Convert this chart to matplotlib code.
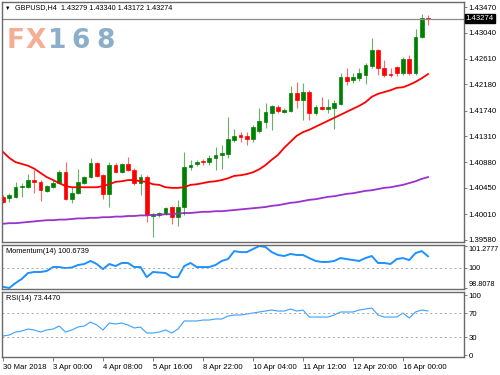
import matplotlib
matplotlib.use("Agg")
import matplotlib.pyplot as plt
from matplotlib.transforms import blended_transform_factory

plt.rcParams['font.family'] = ['Liberation Sans', 'DejaVu Sans']

# GBPUSD H4 candles
open_ = [1.4030, 1.4028, 1.4030, 1.4046, 1.4046, 1.4058, 1.4055, 1.4040, 1.4046, 1.4053,
         1.4071, 1.4026, 1.4036, 1.4053, 1.4063, 1.4087, 1.4066, 1.4035, 1.4083, 1.4071,
         1.4085, 1.4075, 1.4053, 1.4063, 1.3998, 1.4000, 1.4001, 1.4013, 1.3996, 1.4013,
         1.4080, 1.4085, 1.4090, 1.4088, 1.4095, 1.4100, 1.4102, 1.4125, 1.4133, 1.4132,
         1.4127, 1.4140, 1.4155, 1.4170, 1.4180, 1.4172, 1.4173, 1.4203, 1.4192, 1.4205,
         1.4170, 1.4180, 1.4177, 1.4178, 1.4185, 1.4230, 1.4225, 1.4228, 1.4233, 1.4249,
         1.4275, 1.4245, 1.4235, 1.4247, 1.4237, 1.4260, 1.4237, 1.4297, 1.43279]
high = [1.4033, 1.4036, 1.4055, 1.4053, 1.4068, 1.4075, 1.4058, 1.4050, 1.4058, 1.4075,
        1.4088, 1.4046, 1.4076, 1.4065, 1.4095, 1.4088, 1.4068, 1.4088, 1.4087, 1.4087,
        1.4097, 1.4078, 1.4068, 1.4067, 1.4003, 1.4005, 1.4013, 1.4015, 1.4025, 1.4105,
        1.4092, 1.4092, 1.4093, 1.4100, 1.4113, 1.4117, 1.4163, 1.4143, 1.4138, 1.4138,
        1.4150, 1.4178, 1.4187, 1.4183, 1.4183, 1.4178, 1.4215, 1.4222, 1.4220, 1.4208,
        1.4183, 1.4197, 1.4193, 1.4192, 1.4237, 1.4245, 1.4237, 1.4245, 1.4253, 1.4295,
        1.4277, 1.4258, 1.4245, 1.4248, 1.4263, 1.4267, 1.4310, 1.4335, 1.43340]
low = [1.4020, 1.4021, 1.4028, 1.4030, 1.4045, 1.4036, 1.4023, 1.4038, 1.4045, 1.4051,
       1.4025, 1.4020, 1.4035, 1.4051, 1.4061, 1.4063, 1.4026, 1.4013, 1.4070, 1.4070,
       1.4073, 1.4050, 1.4033, 1.3988, 1.3963, 1.3996, 1.4000, 1.3985, 1.3981, 1.4000,
       1.4075, 1.4082, 1.4083, 1.4083, 1.4075, 1.4076, 1.4095, 1.4122, 1.4122, 1.4117,
       1.4122, 1.4137, 1.4145, 1.4142, 1.4170, 1.4170, 1.4172, 1.4178, 1.4158, 1.4158,
       1.4167, 1.4175, 1.4170, 1.4143, 1.4183, 1.4217, 1.4220, 1.4223, 1.4218, 1.4245,
       1.4233, 1.4230, 1.4230, 1.4232, 1.4233, 1.4233, 1.4233, 1.4295, 1.43172]
close = [1.4021, 1.4033, 1.4046, 1.4048, 1.4058, 1.4055, 1.4041, 1.4048, 1.4053, 1.4071,
         1.4026, 1.4036, 1.4055, 1.4063, 1.4087, 1.4065, 1.4035, 1.4083, 1.4071, 1.4085,
         1.4075, 1.4053, 1.4063, 1.4000, 1.4001, 1.4003, 1.4011, 1.3996, 1.4013, 1.4080,
         1.4083, 1.4088, 1.4088, 1.4095, 1.4100, 1.4103, 1.4127, 1.4132, 1.4130, 1.4127,
         1.4147, 1.4157, 1.4172, 1.4182, 1.4173, 1.4175, 1.4203, 1.4192, 1.4205, 1.4170,
         1.4180, 1.4177, 1.4180, 1.4187, 1.4230, 1.4223, 1.4230, 1.4237, 1.4250, 1.4275,
         1.4245, 1.4233, 1.4233, 1.4237, 1.4260, 1.4237, 1.4297, 1.4328, 1.43274]

# moving averages
ma_red = [1.4105, 1.4095, 1.4088, 1.4085, 1.4082, 1.4077, 1.4070, 1.4063, 1.4058, 1.4053,
          1.4048, 1.4046, 1.4046, 1.4046, 1.4046, 1.4046, 1.4048, 1.4051, 1.4055, 1.4056,
          1.4058, 1.4058, 1.4056, 1.4055, 1.4051, 1.4050, 1.4046, 1.4045, 1.4045, 1.4046,
          1.4050, 1.4051, 1.4053, 1.4055, 1.4056, 1.4058, 1.4061, 1.4065, 1.4066, 1.4068,
          1.4071, 1.4076, 1.4083, 1.4092, 1.4100, 1.4112, 1.4122, 1.4132, 1.4138, 1.4142,
          1.4147, 1.4152, 1.4157, 1.4162, 1.4167, 1.4172, 1.4177, 1.4182, 1.4188, 1.4197,
          1.4202, 1.4205, 1.4208, 1.4212, 1.4213, 1.4217, 1.4222, 1.4228, 1.4235]
ma_purple = [1.3985, 1.3986, 1.3986, 1.3987, 1.3988, 1.3989, 1.3990, 1.3991, 1.3991, 1.3992,
             1.3992, 1.3993, 1.3994, 1.3994, 1.3995, 1.3995, 1.3996, 1.3996, 1.3997, 1.3997,
             1.3998, 1.3998, 1.3999, 1.3999, 1.4000, 1.4000, 1.4001, 1.4001, 1.4002, 1.4003,
             1.4003, 1.4004, 1.4005, 1.4005, 1.4006, 1.4006, 1.4007, 1.4008, 1.4009, 1.4010,
             1.4011, 1.4012, 1.4013, 1.4015, 1.4016, 1.4018, 1.4020, 1.4021, 1.4023, 1.4025,
             1.4026, 1.4028, 1.4030, 1.4031, 1.4033, 1.4035, 1.4036, 1.4038, 1.4040, 1.4041,
             1.4043, 1.4045, 1.4046, 1.4048, 1.4050, 1.4053, 1.4056, 1.4060, 1.4063]

momentum = [98.88, 98.8078, 99.10, 99.34, 99.69, 99.75, 99.75, 99.81, 100.04, 100.04,
            99.98, 100.01, 100.16, 100.22, 100.40, 100.22, 99.92, 100.22, 100.10, 100.28,
            100.28, 100.04, 100.04, 99.45, 99.75, 99.72, 99.69, 99.45, 99.45, 100.10,
            100.28, 100.04, 100.04, 100.04, 100.16, 100.40, 100.51, 100.98, 100.92, 100.92,
            101.10, 101.2777, 101.22, 100.92, 100.75, 100.69, 100.81, 100.75, 100.75, 100.57,
            100.40, 100.34, 100.34, 100.40, 100.57, 100.51, 100.45, 100.40, 100.57, 100.69,
            100.28, 100.28, 100.22, 100.51, 100.57, 100.45, 100.86, 100.98, 100.6739]
rsi = [31.7, 33.3, 38.3, 40.0, 43.3, 41.7, 38.3, 41.7, 43.3, 48.3,
       38.3, 41.7, 46.7, 48.3, 55.0, 50.0, 41.7, 53.3, 51.7, 53.3,
       50.0, 45.0, 46.7, 36.7, 36.7, 38.3, 41.7, 36.7, 43.3, 56.7,
       56.7, 56.7, 58.3, 58.3, 60.0, 60.0, 65.0, 66.7, 66.7, 68.3,
       70.0, 71.7, 73.3, 75.0, 73.3, 73.3, 76.7, 73.3, 75.0, 63.3,
       63.3, 63.3, 63.3, 66.7, 71.7, 71.7, 71.7, 75.0, 76.7, 78.3,
       66.7, 63.3, 63.3, 63.3, 70.0, 61.7, 71.7, 75.0, 73.447]

price_ticks = [1.39580, 1.40010, 1.40450, 1.40880, 1.41310, 1.41740, 1.42180, 1.42610, 1.43040, 1.43470]
time_pos = [0, 8, 16, 24, 32, 40, 48, 56, 64]
time_labels = ['30 Mar 2018', '3 Apr 00:00', '4 Apr 08:00', '5 Apr 16:00', '8 Apr 22:00',
               '10 Apr 04:00', '11 Apr 12:00', '12 Apr 20:00', '16 Apr 00:00']

up_col = '#008000'
down_col = '#ff0000'
frame_col = '#6a6a6a'
fs = 5.6

fig = plt.figure(figsize=(5, 3.75), dpi=100)
ax = fig.add_axes([0.004, 0.3547, 0.924, 0.64])
ax_mom = fig.add_axes([0.004, 0.2293, 0.924, 0.1173])
ax_rsi = fig.add_axes([0.004, 0.048, 0.924, 0.1733])

idx = list(range(len(close)))

# ----------------------- price panel -----------------------
ax.plot(idx, ma_purple, color='#9932cc', linewidth=1.3)
ax.plot(idx, ma_red, color='#ff0000', linewidth=1.3)
for i in idx:
    col = up_col if close[i] >= open_[i] else down_col
    ax.vlines(i, low[i], high[i], color=col, linewidth=0.8, alpha=0.6)
    ax.bar(i, abs(close[i] - open_[i]), bottom=min(open_[i], close[i]), width=0.6,
           color=col, edgecolor=col, linewidth=0.5)

# bid line and its price box
ax.axhline(close[-1], color='#8c8c8c', linewidth=0.9)
ax.set_ylim(1.39546, 1.43554)
ax.set_yticks(price_ticks)
ax.set_yticklabels(['%.5f' % p for p in price_ticks])

trans = blended_transform_factory(ax.transAxes, ax.transData)
ax.text(1.004, close[-1], '%.5f' % close[-1], transform=trans, ha='left', va='center',
        color='white', fontsize=fs, bbox=dict(facecolor='black', edgecolor='black', pad=0.6))

ax.text(0.006, 0.985, '\u25bc', transform=ax.transAxes, va='top', ha='left', fontsize=4)
ax.text(0.028, 0.99, 'GBPUSD,H4  1.43279 1.43340 1.43172 1.43274', transform=ax.transAxes,
        va='top', ha='left', fontsize=5.2)

# FX168 logo
logo = [('F', 7, '#f3a58a'), ('X', 26, '#f3a58a'), ('1', 48, '#7ea6c4'), ('6', 71, '#7ea6c4'), ('8', 96, '#7ea6c4')]
for ch, px, c in logo:
    ax.text((px - 2) / 462.0, 0.808, ch, transform=ax.transAxes, ha='left', va='baseline',
            fontsize=19, fontweight='bold', color=c, family='DejaVu Sans', alpha=0.9)

# ----------------------- momentum -----------------------
ax_mom.plot(idx, momentum, color='#1e90ff', linewidth=1.4)
ax_mom.axhline(100, color='#a8a8a8', linewidth=0.7, linestyle=(0, (2, 3)))
ax_mom.set_ylim(98.749, 101.336)
ax_mom.set_yticks([98.8078, 100, 101.2777])
ax_mom.set_yticklabels(['98.8078', '100', '101.2777'])
ax_mom.text(0.008, 0.93, 'Momentum(14) 100.6739', transform=ax_mom.transAxes, va='top', ha='left', fontsize=5.3)

# ----------------------- RSI -----------------------
ax_rsi.plot(idx, rsi, color='#3aa0ff', linewidth=0.8)
ax_rsi.axhline(70, color='#a8a8a8', linewidth=0.7, linestyle=(0, (2, 3)))
ax_rsi.axhline(30, color='#a8a8a8', linewidth=0.7, linestyle=(0, (2, 3)))
ax_rsi.set_ylim(-3.3, 105)
ax_rsi.set_yticks([0, 30, 70, 100])
ax_rsi.set_yticklabels(['0', '30', '70', '100'])
ax_rsi.text(0.008, 0.95, 'RSI(14) 73.4470', transform=ax_rsi.transAxes, va='top', ha='left', fontsize=5.3)

ax_rsi.set_xticks(time_pos)
ax_rsi.set_xticklabels(time_labels)
for lab in ax_rsi.get_xticklabels():
    lab.set_ha('left')

for a in (ax, ax_mom, ax_rsi):
    a.set_xlim(-0.16, 73.76)
    a.yaxis.tick_right()
    a.tick_params(axis='y', length=2, width=0.6, color=frame_col, labelsize=fs, pad=1.2)
    a.tick_params(axis='x', length=3, width=0.6, color=frame_col, labelsize=fs, pad=2)
    for s in a.spines.values():
        s.set_color(frame_col)
        s.set_linewidth(1.0)
ax.set_xticks([])
ax_mom.set_xticks([])

# keep the momentum scale labels inside the panel height and the figure width
ax_mom.tick_params(axis='y', labelsize=5.2)
labs = ax_mom.get_yticklabels()
labs[0].set_va('bottom')
labs[2].set_va('top')

plt.savefig('out.png', dpi=100)
